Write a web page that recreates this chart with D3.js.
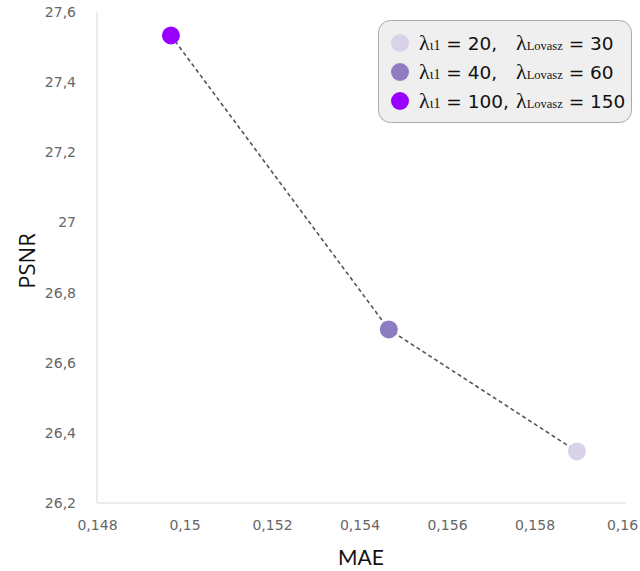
<!DOCTYPE html>
<html><head><meta charset="utf-8">
<script src="https://cdn.jsdelivr.net/npm/d3@7"></script>
<style>body{margin:0;background:#fff;} svg{display:block;}</style>
</head><body>
<svg id="c" width="640" height="571"></svg>
<script>
const maeValues = [0.14969, 0.15467, 0.15897];
const psnrValues = [27.533, 26.695, 26.347];
const lambdaL1 = [100, 40, 20];
const lambdaLovasz = [150, 60, 30];
const pointColors = ["#9900ff", "#8e7cc3", "#d9d2e9"];
const xTicks = [0.148, 0.150, 0.152, 0.154, 0.156, 0.158, 0.160];
const yTicks = [26.2, 26.4, 26.6, 26.8, 27.0, 27.2, 27.4, 27.6];

const svg = d3.select("#c");
const x = d3.scaleLinear().domain([0.148, 0.160]).range([97, 622]);
const y = d3.scaleLinear().domain([26.2, 27.6]).range([503, 12]);
const fmt = v => d3.format("~g")(+v.toFixed(4)).replace(".", ",");

// axes lines
svg.append("line").attr("x1", 97).attr("x2", 97).attr("y1", 12).attr("y2", 503).attr("stroke", "#d9d9d9");
svg.append("line").attr("x1", 97).attr("x2", 626).attr("y1", 503).attr("y2", 503).attr("stroke", "#d9d9d9");

const yAxis = svg.append("g").attr("transform", "translate(97,0)")
  .call(d3.axisLeft(y).tickValues(yTicks).tickFormat(fmt).tickSize(0).tickPadding(21));
yAxis.select(".domain").remove();
yAxis.selectAll("text").attr("fill", "#666").attr("font-family", "DejaVu Sans").attr("font-size", 14);

const xAxis = svg.append("g").attr("transform", "translate(0,503)")
  .call(d3.axisBottom(x).tickValues(xTicks).tickFormat(fmt).tickSize(0).tickPadding(17));
xAxis.select(".domain").remove();
xAxis.selectAll("text").attr("fill", "#666").attr("font-family", "DejaVu Sans").attr("font-size", 14);

// axis titles
svg.append("text").attr("x", 361).attr("y", 565).attr("text-anchor", "middle")
  .attr("font-family", "Lato").attr("font-size", 21).attr("fill", "#111").text("MAE");
svg.append("text").attr("transform", "translate(35,261) rotate(-90)").attr("text-anchor", "middle")
  .attr("font-family", "Open Sans").attr("font-size", 22).attr("fill", "#111").text("PSNR");

// dashed line
const pts = maeValues.map((m, i) => [m, psnrValues[i]]);
svg.append("path").attr("d", d3.line().x(d => x(d[0])).y(d => y(d[1]))(pts))
  .attr("fill", "none").attr("stroke", "#555").attr("stroke-width", 1.6).attr("stroke-dasharray", "4,3");

svg.selectAll("circle.pt").data(pts).join("circle").attr("class", "pt")
  .attr("cx", d => x(d[0])).attr("cy", d => y(d[1])).attr("r", 9)
  .attr("fill", (d, i) => pointColors[i]);

// legend
const lg = svg.append("g");
lg.append("rect").attr("x", 378.5).attr("y", 20.5).attr("width", 253).attr("height", 102).attr("rx", 12)
  .attr("fill", "#efefef").attr("stroke", "#aaaaaa");
const order = [2, 1, 0];
order.forEach((idx, r) => {
  const cy = 43 + r * 29;
  lg.append("circle").attr("cx", 400).attr("cy", cy).attr("r", 9).attr("fill", pointColors[idx]);
  const t1 = lg.append("text").attr("x", 419).attr("y", cy + 7).attr("fill", "#111");
  t1.append("tspan").attr("font-family", "Liberation Serif").attr("font-size", 22).text("λ");
  t1.append("tspan").attr("font-family", "Liberation Serif").attr("font-size", 14).text("ι1");
  t1.append("tspan").attr("font-family", "DejaVu Sans").attr("font-size", 18.5).text(" = " + lambdaL1[idx] + ",");
  const w = t1.node().getComputedTextLength();
  const x2 = Math.max(516, 419 + w + 1);
  const t2 = lg.append("text").attr("x", x2).attr("y", cy + 7).attr("fill", "#111");
  t2.append("tspan").attr("font-family", "Liberation Serif").attr("font-size", 22).text("λ");
  t2.append("tspan").attr("font-family", "Liberation Serif").attr("font-size", 12.5).text("Lovasz");
  t2.append("tspan").attr("font-family", "DejaVu Sans").attr("font-size", 18.5).text(" = " + lambdaLovasz[idx]);
});
</script>
</body></html>
